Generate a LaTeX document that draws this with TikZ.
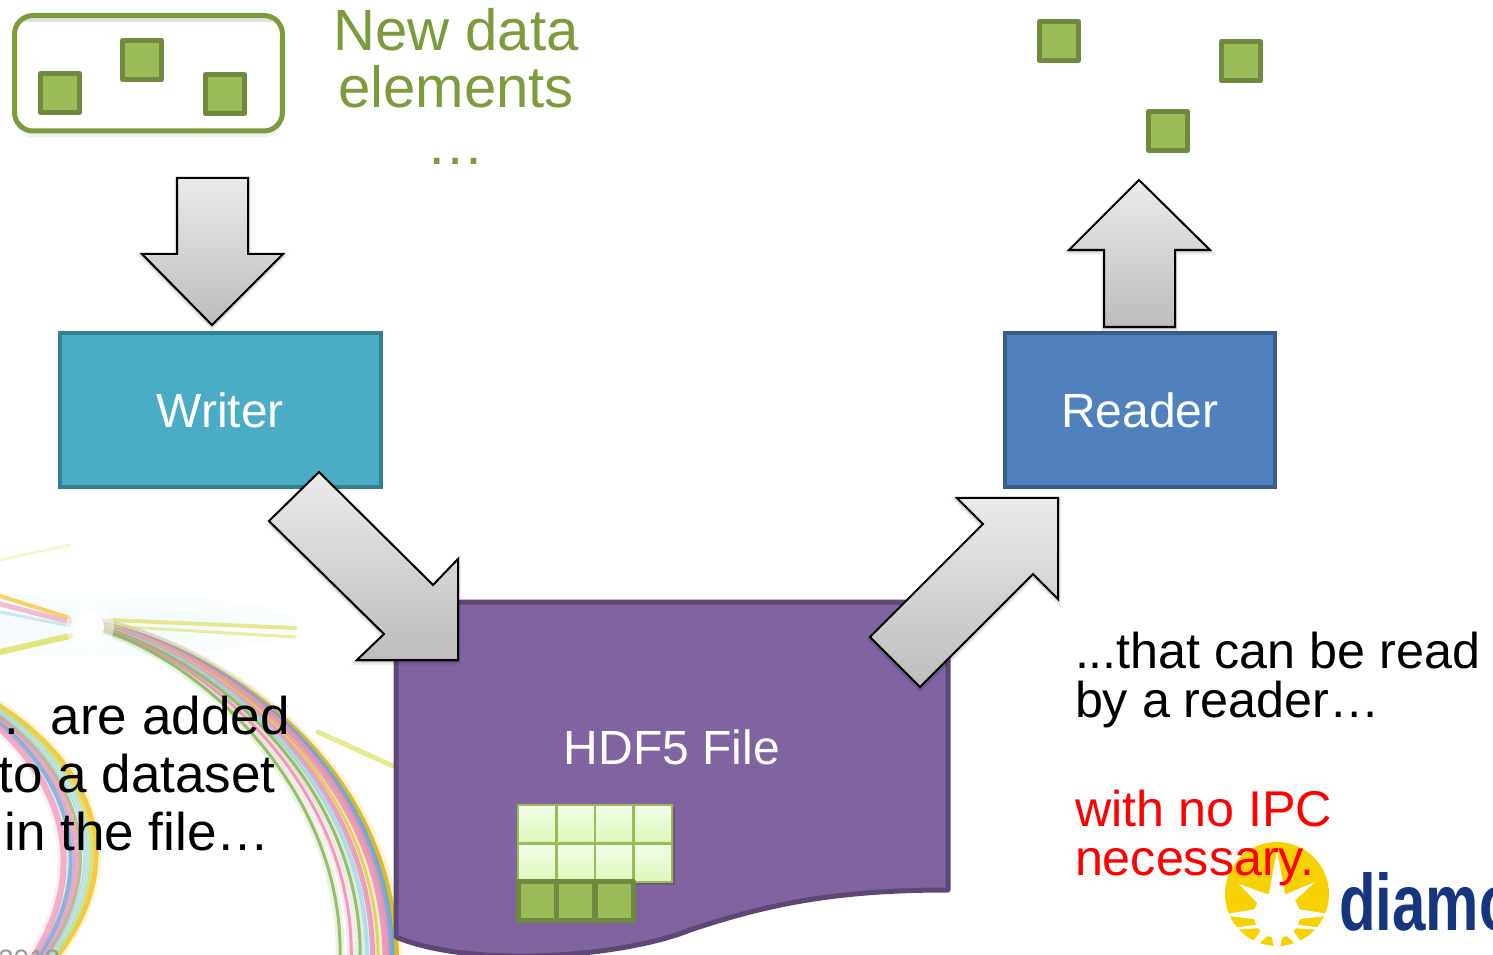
\documentclass[tikz,border=0pt]{standalone}
\usepackage{fontspec}
\setmainfont{Liberation Sans}
\usetikzlibrary{shadows,fadings}
\definecolor{ogreen}{HTML}{7D9A3D}
\definecolor{dgreen}{HTML}{71893F}
\definecolor{mgreen}{HTML}{9BBB59}
\definecolor{wfill}{HTML}{4BACC6}
\definecolor{wline}{HTML}{357F92}
\definecolor{rfill}{HTML}{4F81BD}
\definecolor{rline}{HTML}{385D8A}
\definecolor{ffill}{HTML}{8064A2}
\definecolor{fline}{HTML}{5C4776}
\definecolor{logoblue}{HTML}{15367F}
\definecolor{logoyel}{HTML}{F8D200}
\definecolor{ryel}{HTML}{F2B705}
\definecolor{rblue}{HTML}{58A9DA}
\definecolor{rpink}{HTML}{EE93B4}
\definecolor{rgreen}{HTML}{8DB860}
\definecolor{rlime}{HTML}{D9DC4A}
\definecolor{rcyan}{HTML}{A6DDEB}
\definecolor{cellhi}{HTML}{F4FDEA}
\definecolor{celllo}{HTML}{DDF8B8}
\tikzset{
  x=0.75pt,y=-0.75pt,
  px/.style={line width=#1*0.75pt},
  soft/.style={general shadow={draw=black,fill=black,opacity=0.05,line width=4.5pt,shadow xshift=0pt,shadow yshift=-1.5pt},
               general shadow={draw=black,fill=black,opacity=0.07,line width=2.8pt,shadow xshift=0pt,shadow yshift=-1.2pt},
               general shadow={draw=black,fill=black,opacity=0.10,line width=1.4pt,shadow xshift=0pt,shadow yshift=-0.8pt}},
  blockarrow/.style={draw=black,px=2,line join=miter,soft,shading angle=#1,top color=white!92!black,bottom color=white!74!black},
  sq/.style={draw=dgreen,fill=mgreen,px=5,line join=round},
  labelnode/.style={inner sep=0pt,outer sep=0pt},
}
\newcommand{\fs}[2]{\fontsize{#1}{#2}\selectfont}
\begin{document}
\begin{tikzpicture}
\useasboundingbox (0,0) rectangle (1493,955);
\clip (0,0) rectangle (1493,955);
% --- decorative rainbow background
\begin{scope}[line cap=round]
 \fill[rcyan,opacity=0.06] (90,625) ellipse (210 and 32);
 \fill[rcyan,opacity=0.06] (90,625) ellipse (140 and 18);
 \foreach \t/\c/\w in {0/ryel/6,0.09/rblue/7,0.18/rpink/7,0.32/rlime/3,0.42/rpink/5,0.52/rcyan/4,0.64/rgreen/3,0.8/rpink/3,1/rgreen/3}{
   \draw[\c,px=\w+5,opacity=0.18] ({90},{622+4*\t}) .. controls ({230-30*\t},{650+6*\t}) and ({395-50*\t},{770+20*\t}) .. ({396-56*\t},960);
   \draw[\c,px=\w,opacity=0.9] ({90},{622+4*\t}) .. controls ({230-30*\t},{650+6*\t}) and ({395-50*\t},{770+20*\t}) .. ({396-56*\t},960);
 }
 \foreach \t/\c/\w in {0/ryel/5,0.14/rlime/4,0.3/rcyan/6,0.48/rgreen/3,0.62/rpink/6,0.78/rblue/4,1/rpink/6}{
   \draw[\c,px=\w+4,opacity=0.15] (-10,{700+20*\t}) .. controls ({90-40*\t},{760+10*\t}) and ({138-38*\t},860) .. ({50-22*\t},965);
   \draw[\c,px=\w,opacity=0.7] (-10,{700+20*\t}) .. controls ({90-40*\t},{760+10*\t}) and ({138-38*\t},860) .. ({50-22*\t},965);
 }
 \draw[ryel,px=4,opacity=.6] (0,596) -- (70,618);
 \draw[rpink,px=5,opacity=.6] (0,604) -- (70,622);
 \draw[rblue,px=3,opacity=.25] (0,612) -- (70,626);
 \draw[rlime,px=6,opacity=.7] (0,652) -- (70,636);
 \draw[rlime,px=3,opacity=.25] (0,560) -- (70,545);
 \draw[rlime,px=4,opacity=.6] (110,620) -- (295,628);
 \draw[rlime,px=3,opacity=.5] (110,626) -- (295,637);
 \draw[rlime,px=5,opacity=.6] (318,732) -- (393,766);
 \fill[white,opacity=.5] (90,627) circle (24);
 \fill[white] (90,627) circle (14);
\end{scope}
\node[labelnode,anchor=base west,text=gray!80,font=\fs{21}{24}] (datefrag) at (-2,969) {2013};
% --- logo
\begin{scope}
 \fill[logoyel] (1277,894) circle (52);
 \fill[white] (1277,915) circle (23);
 \fill[white] (1277,850) -- (1286,900) -- (1268,900) -- cycle;
 \fill[white] (1315,882) -- (1290,905) -- (1282,896) -- cycle;
 \fill[white] (1239,884) -- (1272,896) -- (1262,908) -- cycle;
 \fill[white] (1220,915) -- (1262,908) -- (1262,920) -- cycle;
 \fill[white] (1334,915) -- (1292,908) -- (1292,920) -- cycle;
 \fill[white] (1240,960) -- (1265,925) -- (1272,932) -- cycle;
 \fill[white] (1314,960) -- (1289,925) -- (1282,932) -- cycle;
 \fill[white] (1277,960) -- (1270,930) -- (1284,930) -- cycle;
 \fill[white] (1200,932) -- (1262,924) -- (1262,928) -- cycle;
 \fill[white] (1354,932) -- (1292,924) -- (1292,928) -- cycle;
 \node[labelnode,anchor=base west,text=logoblue,xscale=0.75,transform shape,font=\fs{60}{60}\bfseries] (logo) at (1339,930) {diamond};
\end{scope}
% --- HDF5 file
\draw[draw=fline,fill=ffill,px=5,line join=round] (396,602) -- (948,602) -- (948,890)
  .. controls (840,890) and (770,903) .. (690,930)
  .. controls (620,958) and (470,968) .. (396,937) -- cycle;
\node[labelnode,text=white,font=\fs{36}{40}] (file) at (672,747) {HDF5 File};
% grid
\foreach \x in {518,556.5,595,633.5}\foreach \y in {805,843.5}{
  \fill[black,opacity=.14] (\x+3,\y+3) rectangle +(38.5,38.5);
}
\foreach \x in {518,556.5,595,633.5}\foreach \y in {805,843.5}{
  \draw[draw=mgreen,px=2.5,top color=cellhi,bottom color=celllo] (\x,\y) rectangle +(38.5,38.5);
}
\foreach \x in {518.5,556.5,595}{
  \draw[sq] (\x,881.5) rectangle +(38.25,39);
}
% --- top left box
\fill[black!6,rounded corners=12pt] (16,30) rectangle (281,137);
\fill[white,rounded corners=12pt] (17,19) rectangle (279,130);
\fill[black!12] (24,18) rectangle (272,22);
\draw[draw=ogreen,px=5,rounded corners=14pt] (14.5,15.5) rectangle (282.5,131);
\draw[sq] (40.5,73.5) rectangle (79.5,112.5);
\draw[sq] (122.5,40.5) rectangle (161.5,79.5);
\draw[sq] (205.5,74.5) rectangle (244.5,113.5);
\node[labelnode,text=ogreen,align=center,anchor=north,font=\fs{43.6}{42.75}] (newdata) at (456,8) {New data\\elements\\…};
% --- right free squares
\draw[sq] (1039.5,21.5) rectangle (1078.5,60.5);
\draw[sq] (1221.5,41.5) rectangle (1260.5,80.5);
\draw[sq] (1148.5,111.5) rectangle (1187.5,150.5);
% --- writer and reader
\node[draw=wline,fill=wfill,px=4,labelnode,minimum width=241pt,minimum height=115pt,text=white,anchor=north west,font=\fs{36}{40}] (writer) at (59.5,333.5) {\raisebox{-3pt}{Writer}};
\node[draw=rline,fill=rfill,px=4,labelnode,minimum width=203pt,minimum height=115pt,text=white,anchor=north west,font=\fs{36}{40}] (reader) at (1004.5,333.5) {\raisebox{-3pt}{Reader}};
% --- block arrows
\draw[blockarrow=0] (177,178) -- (248,178) -- (248,254) -- (283,254) -- (212,325) -- (142,254) -- (177,254) -- cycle;
\draw[blockarrow=180] (1139,180) -- (1210,250) -- (1175,250) -- (1175,327) -- (1104,327) -- (1104,250) -- (1069,250) -- cycle;
\draw[blockarrow=45] (319,472) -- (433,585) -- (458,559) -- (458,660) -- (357,660) -- (384,634) -- (269,521) -- cycle;
\draw[blockarrow=135] (1058,498) -- (957,498) -- (983,524) -- (870,637) -- (920,687) -- (1033,574) -- (1058,599) -- cycle;
% --- captions
\node[labelnode,align=center,anchor=north,text=black,font=\fs{39.8}{43.5}] (added) at (137,696) {…\ \ are added\hspace*{12pt}\\to a dataset\\in the file…};
\node[labelnode,align=left,anchor=north west,text=black,font=\fs{37.7}{36.75}] (read) at (1075,632) {...that can be read\\by a reader…};
\node[labelnode,align=left,anchor=north west,text=red,font=\fs{37.7}{36.75}] (ipc) at (1075,790) {with no IPC\\necessary.};
\end{tikzpicture}
\end{document}
